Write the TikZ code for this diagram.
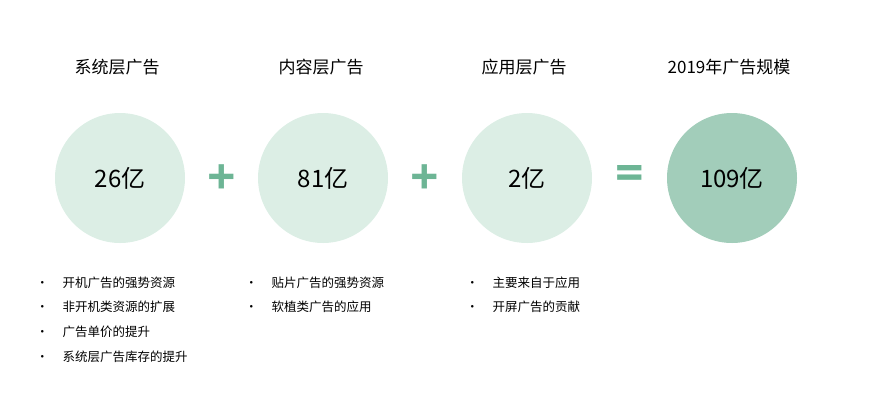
\documentclass[tikz,border=0pt]{standalone}
\usepackage{fontspec}
\setmainfont{Open Sans}
\newfontfamily\cjk{Noto Sans CJK SC}
\definecolor{lightc}{HTML}{DCEEE5}
\definecolor{darkc}{HTML}{A2CDBA}
\definecolor{opc}{HTML}{6DB595}
\begin{document}
\begin{tikzpicture}[x=1pt,y=-1pt,
  circ/.style={circle,minimum size=130pt,inner sep=0pt,fill=lightc,font=\cjk\fontsize{24}{24}\selectfont},
  ttl/.style={font=\cjk\fontsize{17}{17}\selectfont},
  op/.style={text=opc,font=\fontsize{50}{50}\selectfont\bfseries},
  bl/.style={anchor=west,font=\cjk\fontsize{12.5}{14}\selectfont,inner sep=0pt}]
\useasboundingbox (0,0) rectangle (876,400);
\node[circ] (c1) at (120,178) {26亿};
\node[circ] (c2) at (323,178) {81亿};
\node[circ] (c3) at (527,178) {2亿};
\node[circ,fill=darkc] (c4) at (732,178) {109亿};
\node[ttl] (t1) at (117,67) {系统层广告};
\node[ttl] (t2) at (321,67) {内容层广告};
\node[ttl] (t3) at (524,67) {应用层广告};
\node[ttl] (t4) at (729,67) {2019年广告规模};
\node[op] (p1) at (222,180) {+};
\node[op] (p2) at (425,180) {+};
\node[op] (e1) at (630,178) {=};
\node[bl] (a1) at (36,283) {•\hspace{14pt}开机广告的强势资源};
\node[bl] (a2) at (36,307) {•\hspace{14pt}非开机类资源的扩展};
\node[bl] (a3) at (36,332) {•\hspace{14pt}广告单价的提升};
\node[bl] (a4) at (36,357) {•\hspace{14pt}系统层广告库存的提升};
\node[bl] (b1) at (245,283) {•\hspace{14pt}贴片广告的强势资源};
\node[bl] (b2) at (245,307) {•\hspace{14pt}软植类广告的应用};
\node[bl] (d1) at (466,283) {•\hspace{14pt}主要来自于应用};
\node[bl] (d2) at (466,307) {•\hspace{14pt}开屏广告的贡献};
\end{tikzpicture}
\end{document}
